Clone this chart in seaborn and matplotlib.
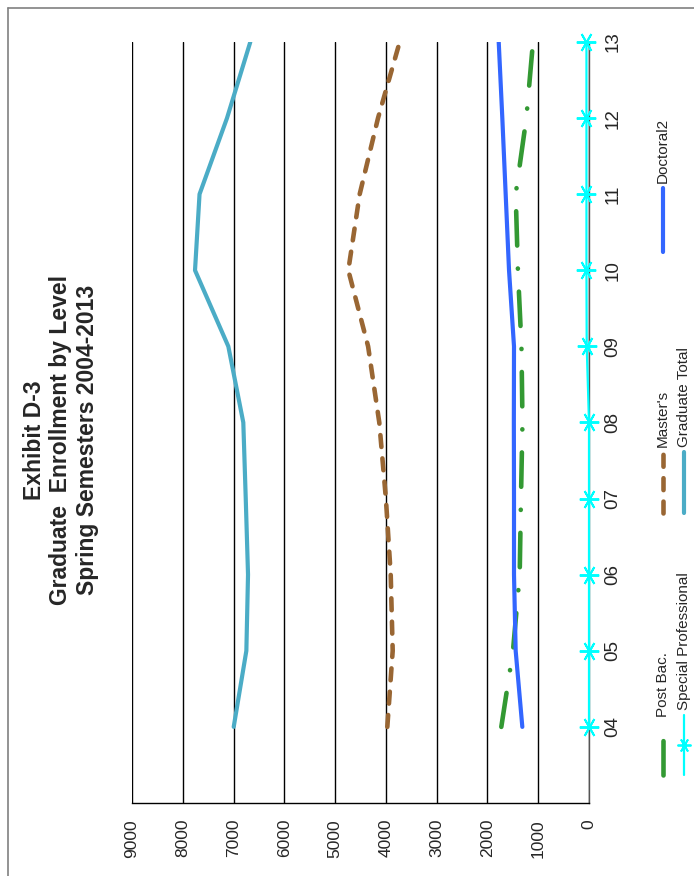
import matplotlib
matplotlib.use("Agg")
import matplotlib.pyplot as plt
from matplotlib.lines import Line2D
import seaborn as sns
import pandas as pd

# ---- data ----
years = [4, 5, 6, 7, 8, 9, 10, 11, 12, 13]
year_labels = ["04", "05", "06", "07", "08", "09", "10", "11", "12", "13"]
value_ticks = [0, 1000, 2000, 3000, 4000, 5000, 6000, 7000, 8000, 9000]
post_bac = [1727, 1497, 1365, 1340, 1310, 1330, 1400, 1444, 1234, 1103]
masters = [3972, 3866, 3905, 4000, 4130, 4350, 4740, 4516, 4155, 3728]
doctoral = [1313, 1444, 1477, 1477, 1480, 1477, 1575, 1641, 1707, 1778]
special_prof = [0, 0, 0, 0, 0, 45, 50, 50, 50, 50]
grad_total = [6997, 6748, 6715, 6760, 6808, 7103, 7759, 7670, 7129, 6670]
series_names = ["Post Bac.", "Master's", "Doctoral2", "Special Professional", "Graduate Total"]
title_lines = ["Exhibit D-3", "Graduate  Enrollment by Level", "Spring Semesters 2004-2013"]

sns.set_style("white")
plt.rcParams["font.family"] = ["Liberation Sans", "DejaVu Sans"]

W, H = 694, 876
fig = plt.figure(figsize=(W / 100, H / 100), dpi=100)
ax = fig.add_axes([132 / W, 1 - 803 / H, (589 - 132) / W, (803 - 42) / H])

df = pd.DataFrame({"year": years, "post": post_bac, "mast": masters, "doc": doctoral,
                   "spec": special_prof, "grad": grad_total})

C_POST, C_MAST, C_DOC, C_SPEC, C_GRAD = "#339933", "#996633", "#3366FF", "#00FFFF", "#4BACC6"
LS_POST = (0, (7.5, 5.0, 0.05, 5.0))
LS_MAST = (0, (2.6, 2.5))
STAR = (6, 2, 90)

sns.lineplot(data=df, x="grad", y="year", orient="y", errorbar=None, ax=ax,
             color=C_GRAD, linewidth=3.0, solid_capstyle="round", zorder=3)
sns.lineplot(data=df, x="mast", y="year", orient="y", errorbar=None, ax=ax,
             color=C_MAST, linewidth=3.3, linestyle=LS_MAST, dash_capstyle="round", zorder=3)
sns.lineplot(data=df, x="post", y="year", orient="y", errorbar=None, ax=ax,
             color=C_POST, linewidth=3.3, linestyle=LS_POST, dash_capstyle="round", zorder=3)
sns.lineplot(data=df, x="doc", y="year", orient="y", errorbar=None, ax=ax,
             color=C_DOC, linewidth=3.0, solid_capstyle="round", zorder=4)
sns.lineplot(data=df, x="spec", y="year", orient="y", errorbar=None, ax=ax,
             color=C_SPEC, linewidth=1.6, marker=STAR, markersize=14,
             markeredgewidth=1.4, markeredgecolor=C_SPEC, zorder=5, clip_on=False)

ax.set_xlim(9000, 0)
ax.set_ylim(3, 13)
ax.set_xticks(value_ticks)
ax.set_xticklabels([str(v) for v in value_ticks], rotation=90, fontsize=12.5)
ax.yaxis.tick_right()
ax.set_yticks(years)
ax.set_yticklabels(year_labels, rotation=90, fontsize=13.5, va="center")
ax.tick_params(axis="x", direction="inout", length=5, width=1, color="black", pad=9)
ax.tick_params(axis="y", length=0, pad=11)
ax.set_xlabel("")
ax.set_ylabel("")
ax.grid(axis="x", color="black", linewidth=1.0, zorder=0)
ax.grid(axis="y", visible=False)
for s in ["top", "left"]:
    ax.spines[s].set_visible(False)
ax.spines["bottom"].set_color("black")
ax.spines["bottom"].set_linewidth(1.0)
ax.spines["right"].set_color("#555555")
ax.spines["right"].set_linewidth(1.0)

# ---- title (rotated chart) ----
fig.text(61 / W, 1 - 440 / H, "\n".join(title_lines), rotation=90, ha="center", va="center",
         fontsize=16.5, fontweight="bold", linespacing=1.2)

# ---- legend (rotated, drawn manually) ----
def fy(p):
    return 1 - p / H

def fx(p):
    return p / W

leg = [
    (series_names[0], 663, 775, 722, dict(color=C_POST, lw=3.3, ls=LS_POST, dash_capstyle="round"), None),
    (series_names[1], 663, 513, 452, dict(color=C_MAST, lw=3.3, ls=LS_MAST, dash_capstyle="round"), None),
    (series_names[2], 663, 252, 188, dict(color=C_DOC, lw=3.0, solid_capstyle="round"), None),
    (series_names[3], 684, 775, 715, dict(color=C_SPEC, lw=1.6), 745),
    (series_names[4], 684, 513, 452, dict(color=C_GRAD, lw=3.0, solid_capstyle="round"), None),
]
for name, x, y0, y1, kw, mk in leg:
    fig.add_artist(Line2D([fx(x), fx(x)], [fy(y0), fy(y1)], transform=fig.transFigure, **kw))
    if mk is not None:
        fig.add_artist(Line2D([fx(x)], [fy(mk)], transform=fig.transFigure, marker=STAR,
                              markersize=10, markeredgewidth=1.3, color=C_SPEC, lw=0))
    fig.text(fx(x), fy(y1 - 5), name, rotation=90, ha="center", va="bottom", fontsize=11)

# ---- border ----
fig.add_artist(Line2D([fx(8), fx(8)], [0, fy(8)], transform=fig.transFigure, color="#808080", lw=1.2))
fig.add_artist(Line2D([fx(8), 1], [fy(8), fy(8)], transform=fig.transFigure, color="#808080", lw=1.2))

fig.savefig("out.png", dpi=100)
